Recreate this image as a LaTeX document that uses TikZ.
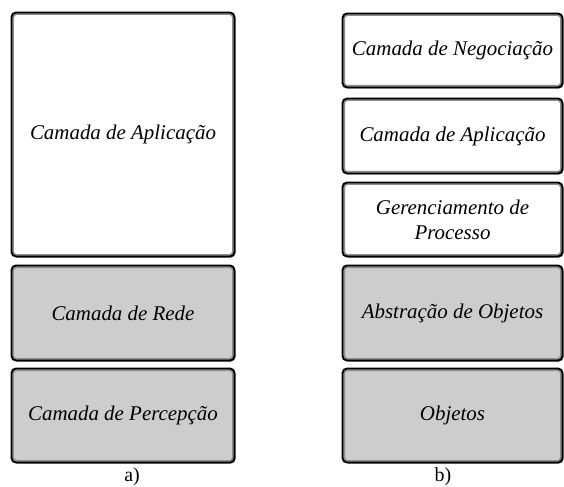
\documentclass[tikz,border=0pt]{standalone}
\usepackage{fontspec}
\setmainfont{Liberation Serif}
\usetikzlibrary{shadows}

\definecolor{layergray}{RGB}{205,205,205}

\tikzset{
  layer/.style={draw=black, line width=1.9bp, rounded corners=4.5bp, align=center,
    inner sep=0pt, font=\fontsize{21}{25}\selectfont\itshape,
    drop shadow={shadow xshift=1bp, shadow yshift=-1bp, fill=black!70, opacity=1},
    path picture={\draw[black!45, line width=5bp, rounded corners=4.5bp]
      (path picture bounding box.south west) rectangle (path picture bounding box.north east);}},
  upper/.style={layer, fill=white},
  lower/.style={layer, fill=layergray},
  caption/.style={font=\fontsize{20}{22}\selectfont}
}

\begin{document}
\begin{tikzpicture}[x=1bp,y=-1bp]
\useasboundingbox (0,0) rectangle (564,487);

% a)
\node[upper, minimum width=223bp, minimum height=244bp] (app) at (123,134.5) {Camada de Aplicação};
\node[lower, minimum width=223bp, minimum height=95bp] (rede) at (123,313) {Camada de Rede};
\node[lower, minimum width=223bp, minimum height=94bp] (percepcao) at (123,415.5) {Camada de Percepção};
\node[caption] (capa) at (132,477) {a)};

% b)
\node[upper, minimum width=220bp, minimum height=74bp] (negociacao) at (452.5,50.5) {Camada de Negociação};
\node[upper, minimum width=220bp, minimum height=75bp] (aplicacao) at (452.5,136) {Camada de Aplicação};
\node[upper, minimum width=220bp, minimum height=74bp] (processo) at (452.5,219.5) {Gerenciamento de\\Processo};
\node[lower, minimum width=220bp, minimum height=95bp] (abstracao) at (452.5,313) {Abstração de Objetos};
\node[lower, minimum width=220bp, minimum height=94bp] (objetos) at (452.5,415.5) {Objetos};
\node[caption] (capb) at (443,477) {b)};
\end{tikzpicture}
\end{document}
